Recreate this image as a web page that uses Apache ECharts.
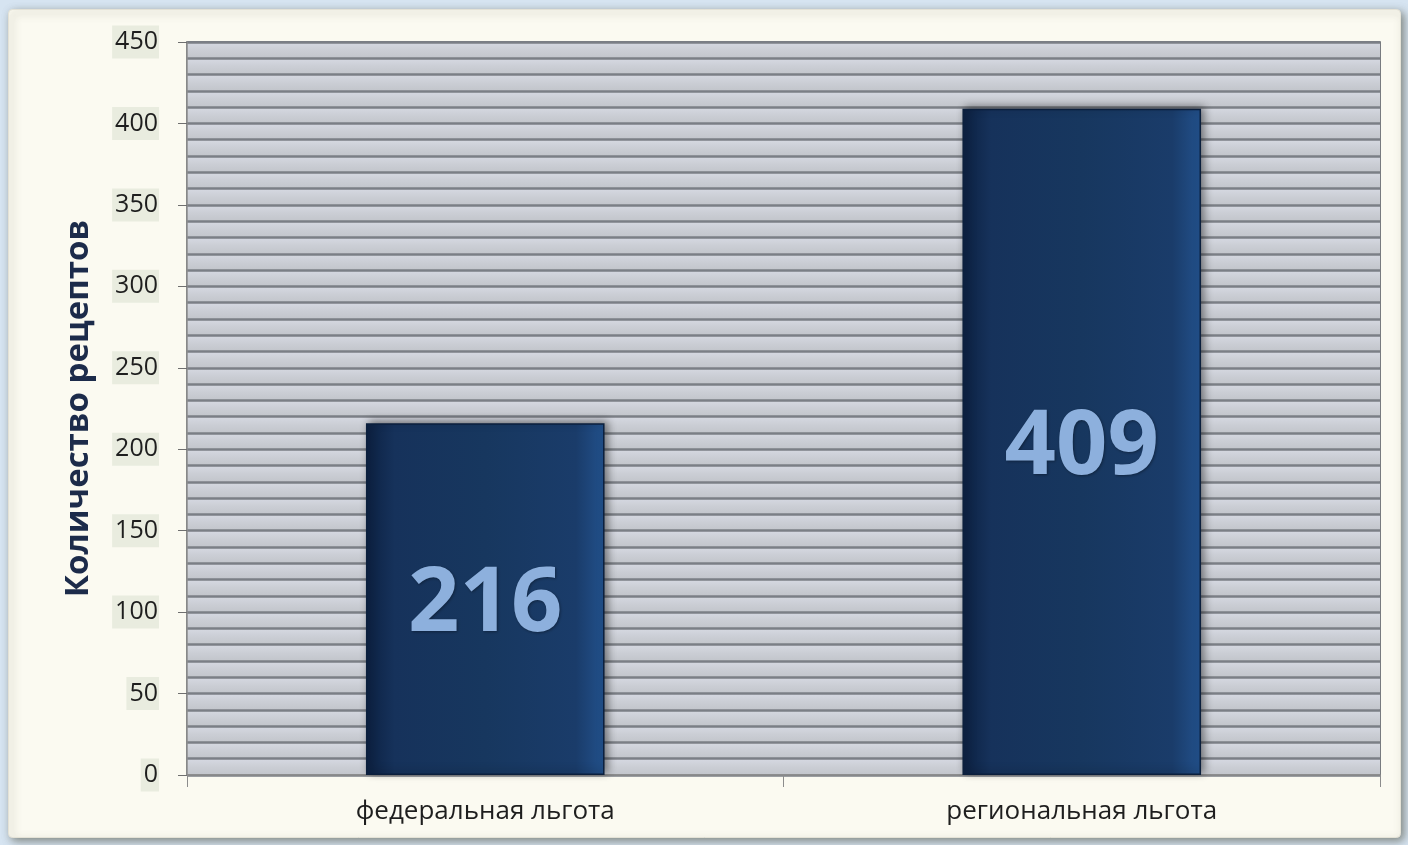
<!DOCTYPE html>
<html><head><meta charset="utf-8">
<script src="https://cdn.jsdelivr.net/npm/echarts@6/dist/echarts.min.js"></script>
<style>html,body{margin:0;padding:0;background:#d6e4f1;}#c{width:1408px;height:845px;}</style>
</head><body><div id="c"></div>
<script>
const categories = ['федеральная льгота', 'региональная льгота'];
const values = [216, 409];
const yAxisName = 'Количество рецептов';
const yMin = 0, yMax = 450, majorStep = 50, minorStep = 10;

const chart = echarts.init(document.getElementById('c'), null, {renderer: 'canvas'});
const font = '"Open Sans", "Noto Sans", sans-serif';
const barGrad = new echarts.graphic.LinearGradient(0, 0, 1, 0, [
  {offset: 0, color: '#0c2142'},
  {offset: 0.12, color: '#16325b'},
  {offset: 0.5, color: '#17375f'},
  {offset: 0.88, color: '#1a3c6a'},
  {offset: 1, color: '#22518c'}
]);
const bandGrad = new echarts.graphic.LinearGradient(0, 0, 0, 1, [
  {offset: 0, color: '#d6d9e2'},
  {offset: 0.5, color: '#cbced5'},
  {offset: 1, color: '#c2c5cb'}
]);
chart.setOption({
  backgroundColor: '#d6e4f1',
  graphic: [{
    type: 'rect', left: 8, top: 9, z: -10,
    shape: {width: 1392, height: 828, r: 4},
    style: {fill: '#fbfaf1', shadowBlur: 8, shadowColor: 'rgba(60,60,40,0.55)', shadowOffsetX: 3, shadowOffsetY: 3, stroke: '#e4e2d6', lineWidth: 1}
  }],
  grid: {left: 187, right: 28, top: 42, bottom: 70, show: true, borderColor: '#4d525a', borderWidth: 1.5, backgroundColor: '#c9ccd3'},
  xAxis: {
    type: 'category', data: categories,
    axisLine: {lineStyle: {color: '#8c8c8c', width: 1.5}},
    axisTick: {show: true, length: 12, lineStyle: {color: '#8c8c8c'}},
    axisLabel: {color: '#1e1e1e', fontSize: 26, fontFamily: font, margin: 24}
  },
  yAxis: [{
    type: 'value', min: yMin, max: yMax, interval: minorStep,
    axisLine: {show: false}, axisTick: {show: false}, axisLabel: {show: false},
    splitLine: {show: true, lineStyle: {color: '#7b7f86', width: 2.5}},
    splitArea: {show: true, areaStyle: {color: [bandGrad]}}
  }, {
    type: 'value', min: yMin, max: yMax, interval: majorStep, position: 'left', offset: 0,
    name: yAxisName, nameLocation: 'middle', nameGap: 92,
    nameTextStyle: {color: '#1c2b4a', fontSize: 33, fontWeight: 'bold', fontFamily: font},
    axisLine: {show: true, lineStyle: {color: '#8c8c8c', width: 1.5}},
    axisTick: {show: true, length: 9, lineStyle: {color: '#6f6f6f'}},
    splitLine: {show: false},
    axisLabel: {color: '#1e1e1e', fontSize: 25, fontFamily: font, margin: 28,
      backgroundColor: '#e9ecdf', padding: [4, 1, 4, 3]}
  }],
  series: [{
    type: 'bar', data: values, yAxisIndex: 0, barCategoryGap: '60%',
    itemStyle: {color: barGrad, borderColor: '#0b1f3c', borderWidth: 1.5,
      shadowBlur: 8, shadowColor: 'rgba(0,0,0,0.45)', shadowOffsetX: 3, shadowOffsetY: -2},
    label: {show: true, position: 'inside', offset: [0, 6], color: '#8db0dd', fontSize: 90, fontWeight: 'bold', fontFamily: font,
      textShadowColor: 'rgba(0,0,0,0.35)', textShadowBlur: 3, textShadowOffsetX: 1, textShadowOffsetY: 1},
    animation: false
  }],
  animation: false
});
</script></body></html>
